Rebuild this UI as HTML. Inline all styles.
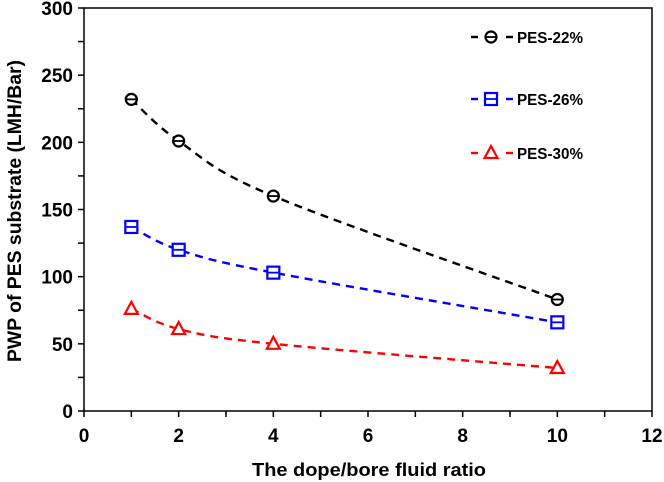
<!DOCTYPE html>
<html><head><meta charset="utf-8"><style>
html,body{margin:0;padding:0;background:#fff;}
svg{display:block;font-family:"Liberation Sans",sans-serif;}
</style></head><body>
<svg id="chart" width="664" height="482" viewBox="0 0 664 482">
<rect x="0" y="0" width="664" height="482" fill="#fff"/>
<g id="axes"></g><g id="series"></g><g id="legend"></g>
</svg>
<script>
const xValues = [1, 2, 4, 10];
const pes22 = [232, 201, 160, 83];
const pes26 = [137, 120, 103, 66];
const pes30 = [76, 61, 50, 32];
const xTickLabels = ["0","2","4","6","8","10","12"];
const yTickLabels = ["0","50","100","150","200","250","300"];
const seriesNames = ["PES-22%","PES-26%","PES-30%"];

const NS="http://www.w3.org/2000/svg";
const L=84,R=652,T=8,B=411,xMax=12,yMax=300;
const sx=v=>L+(R-L)*v/xMax, sy=v=>B-(B-T)*v/yMax;
function mk(tag,attrs,parent,text){const e=document.createElementNS(NS,tag);for(const k in attrs)e.setAttribute(k,attrs[k]);if(text!==undefined)e.textContent=text;parent.appendChild(e);return e;}
const axes=document.getElementById('axes');
const frame=mk('rect',{x:L,y:T,width:R-L,height:B-T,fill:'none',stroke:'#000','stroke-width':1.5},axes);


for(let i=0;i<=12;i++){const t=mk('line',{x1:sx(i),x2:sx(i),y1:B,y2:B+6,stroke:'#000','stroke-width':1.5},axes);

}
xTickLabels.forEach((s,i)=>{const t=mk('text',{x:sx(+s),y:B+31,'text-anchor':'middle','font-size':19,'font-weight':'bold'},axes,s);

});
for(let v=0;v<=300;v+=25){const t=mk('line',{x1:L-6,x2:L,y1:sy(v),y2:sy(v),stroke:'#000','stroke-width':1.5},axes);

}
yTickLabels.forEach(s=>{const t=mk('text',{x:L-11,y:sy(+s)+7,'text-anchor':'end','font-size':19,'font-weight':'bold'},axes,s);

});
const xt=mk('text',{x:369,y:476,'text-anchor':'middle','font-size':18,'font-weight':'bold',textLength:234,lengthAdjust:'spacingAndGlyphs'},axes,'The  dope/bore fluid ratio');


const yt=mk('text',{x:0,y:0,transform:`translate(21,211) rotate(-90)`,'text-anchor':'middle','font-size':19,'font-weight':'bold',textLength:302,lengthAdjust:'spacingAndGlyphs'},axes,'PWP of  PES substrate (LMH/Bar)');



function spline(pts){let d=`M${pts[0][0]},${pts[0][1]}`;
for(let i=0;i<pts.length-1;i++){const p0=pts[i-1]||pts[i],p1=pts[i],p2=pts[i+1],p3=pts[i+2]||p2;
const c1=[p1[0]+(p2[0]-p0[0])/6,p1[1]+(p2[1]-p0[1])/6],c2=[p2[0]-(p3[0]-p1[0])/6,p2[1]-(p3[1]-p1[1])/6];
d+=` C${c1[0]},${c1[1]} ${c2[0]},${c2[1]} ${p2[0]},${p2[1]}`;}return d;}
function marker(type,x,y,color,g){
 if(type==='circle'){mk('circle',{cx:x,cy:y,r:5.5,fill:'#fff',stroke:color,'stroke-width':2.2},g);mk('line',{x1:x-5,x2:x+5,y1:y,y2:y,stroke:color,'stroke-width':1.8},g);}
 else if(type==='square'){mk('rect',{x:x-6,y:y-6,width:12,height:12,fill:'#fff',stroke:color,'stroke-width':2.2},g);mk('line',{x1:x-5,x2:x+5,y1:y,y2:y,stroke:color,'stroke-width':1.8},g);}
 else {mk('polygon',{points:`${x},${y-7} ${x+6.5},${y+5} ${x-6.5},${y+5}`,fill:'#fff',stroke:color,'stroke-width':2.2},g);}
}
const series=[[pes22,'#000','circle'],[pes26,'#0000ff','square'],[pes30,'#ff0000','triangle']];
const sg=document.getElementById('series'), lg=document.getElementById('legend');
const legY=[37,99,153];
series.forEach(([vals,color,type],k)=>{
 const g=mk('g',{},sg);
 
 
 const pts=xValues.map((x,i)=>[sx(x),sy(vals[i])]);
 mk('path',{d:spline(pts),fill:'none',stroke:color,'stroke-width':2.4,'stroke-dasharray':'8,6'},g);
 pts.forEach(p=>marker(type,p[0],p[1],color,g));
 const lgi=mk('g',{},lg);
 
 
 const y=legY[k];
 mk('line',{x1:471,x2:478,y1:y,y2:y,stroke:color,'stroke-width':2.4},lgi);
 mk('line',{x1:506,x2:513,y1:y,y2:y,stroke:color,'stroke-width':2.4},lgi);
 marker(type,491,y,color,lgi);
 mk('text',{x:517,y:y+6,'font-size':16,'font-weight':'bold',textLength:66,lengthAdjust:'spacingAndGlyphs'},lgi,seriesNames[k]);
});
</script>
</body></html>
